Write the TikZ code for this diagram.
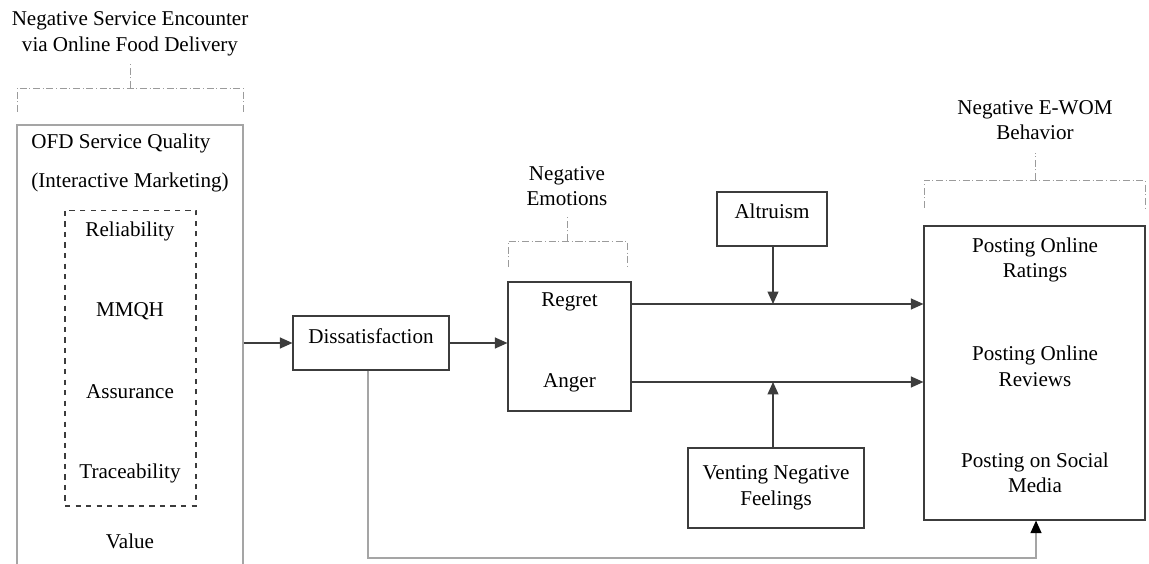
\documentclass[tikz,border=0pt]{standalone}
\usepackage{fontspec}
\setmainfont{Liberation Serif}
\usetikzlibrary{arrows.meta,positioning,calc}
\definecolor{boxcol}{RGB}{60,60,60}
\definecolor{brkcol}{RGB}{155,155,155}
\definecolor{fbcol}{RGB}{165,165,165}
\tikzset{
  box/.style  ={draw=boxcol,line width=0.7pt,inner sep=0pt},
  outer/.style={draw=fbcol,line width=0.7pt,inner sep=0pt},
  inner/.style={draw=boxcol,dashed,line width=0.6pt,inner sep=0pt},
  txt/.style  ={font=\fontsize{12}{14.5}\selectfont,align=center,inner sep=0pt},
  brk/.style  ={draw=brkcol,dash pattern=on 4pt off 1.5pt on 0.6pt off 1.5pt,line width=0.5pt},
  ar/.style   ={-{Triangle[length=2.5mm,width=2.2mm]},line width=0.7pt,draw=boxcol},
  fb/.style   ={-{Triangle[length=2.5mm,width=2.2mm,color=black]},line width=0.7pt,draw=fbcol},
}

\begin{document}
\begin{tikzpicture}[x=0.02cm,y=-0.02cm]
  \clip (0,0) rectangle (1149,564);
  % service encounter
  \node[txt] (enc) at (130,34) {Negative Service Encounter\\via Online Food Delivery};
  \draw[brk] (17,112) |- (243,88) -- (243,112);
  \draw[brk] (130,88) -- (130,64);
  \node[outer,minimum width=4.52cm,minimum height=9.6cm] (ofd) at (130,365) {};
  \node[txt,anchor=west] (qual) at (31,143) {OFD Service Quality};
  \node[txt,anchor=west] (inter) at (31,182) {(Interactive Marketing)};
  \node[inner,minimum width=2.62cm,minimum height=5.92cm] (dims) at (130.5,358) {};
  \foreach \y/\t in {231/Reliability,311/MMQH,392/Assurance,473/Traceability}
    \node[txt] (d\y) at (130,\y) {\t};
  \node[txt] (val) at (130,541) {Value};
  % dissatisfaction and emotions
  \node[box,txt,minimum width=3.12cm,minimum height=1.08cm,text depth=8pt] (dis) at (371,343) {Dissatisfaction};
  \node[box,minimum width=2.46cm,minimum height=2.58cm] (emo) at (569.5,346.5) {};
  \node[txt] (reg) at (569.5,302) {Regret};
  \node[txt] (ang) at (569.5,383) {Anger};
  \node[txt] (emotit) at (567,186) {Negative\\Emotions};
  \draw[brk] (508,267) |- (627,241) -- (627,267);
  \draw[brk] (567,241) -- (567,216);
  \draw[ar] (ofd.east |- dis) -- (dis);
  \draw[ar] (dis) -- (emo.west |- dis);
  % moderators
  \node[box,txt,minimum width=2.2cm,minimum height=1.08cm,text depth=9pt] (alt) at (772,219) {Altruism};
  \node[box,txt,minimum width=3.52cm,minimum height=1.6cm] (vent) at (776,488) {Venting Negative\\Feelings};
  % e-wom
  \node[box,minimum width=4.42cm,minimum height=5.88cm] (ewom) at (1034.5,373) {};
  \node[txt] (rat) at (1035,260) {Posting Online\\Ratings};
  \node[txt] (rev) at (1035,366.5) {Posting Online\\Reviews};
  \node[txt] (soc) at (1035,473) {Posting on Social\\Media};
  \node[txt] (ewomtit) at (1035,120) {Negative E-WOM\\Behavior};
  \draw[brk] (924,208) |- (1145,180) -- (1145,208);
  \draw[brk] (1035,180) -- (1035,153);
  % paths
  \coordinate (m1) at (773,304);
  \coordinate (m2) at (773,382);
  \draw[ar] (emo.east |- m1) -- (ewom.west |- m1);
  \draw[ar] (emo.east |- m2) -- (ewom.west |- m2);
  \draw[ar] (alt.south -| m1) -- (m1);
  \draw[ar] (vent.north -| m2) -- (m2);
  \coordinate (fbend) at (1036,558);
  \draw[fb] (dis.south -| 368,0) |- (fbend) -- (ewom.south -| fbend);
\end{tikzpicture}
\end{document}
